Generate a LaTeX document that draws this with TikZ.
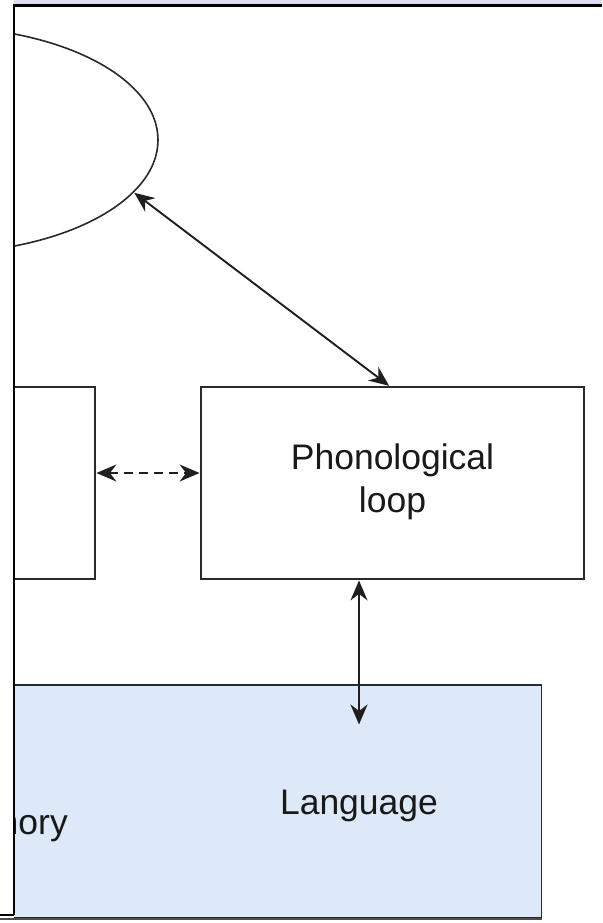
\documentclass[tikz,border=0pt]{standalone}
\usepackage{fontspec}
\setmainfont{Liberation Sans}
\usetikzlibrary{arrows.meta,shapes.geometric,calc}
\definecolor{lav}{HTML}{DCDDF4}
\definecolor{lblue}{HTML}{DDE8F8}
\definecolor{edge}{HTML}{2A2A2A}
\tikzset{
  boxshape/.style={draw=edge,line width=1.8pt,rectangle,inner sep=0pt},
  lbl/.style={font=\fontsize{35.5}{43}\selectfont,text=black!90,inner sep=0pt},
  arr/.style={draw=black!88,line width=1.9pt,{Stealth[length=20pt,width=17pt,inset=6.5pt]}-{Stealth[length=20pt,width=17pt,inset=6.5pt]},shorten <=0.5pt,shorten >=0.5pt},
  frame/.style={draw=black,line width=2.4pt}
}
\begin{document}
\begin{tikzpicture}[x=1pt,y=-1pt]
\useasboundingbox (0,0) rectangle (602,923);
\fill[white] (0,0) rectangle (602,923);
% top strip
\fill[lav] (14,0) rectangle (602,4.5);
\begin{scope}
\clip (14,0) rectangle (602,923);
\node[draw=edge,line width=1.6pt,ellipse,inner sep=0pt,minimum width=440pt,minimum height=226pt] (ell) at (-62,140) {};
\node[boxshape,minimum width=295pt,minimum height=192pt] (lbox) at (-52.5,483) {};
\node[boxshape,fill=lblue,minimum width=841.5pt,minimum height=233pt] (lang) at (120.75,801.5) {};
\node[lbl,anchor=base east] (mem) at (68,834) {Memory};
\end{scope}
\node[boxshape,minimum width=383pt,minimum height=192pt] (phon) at (392.5,483) {};
\node[lbl,anchor=base] (phonA) at (392.5,469) {Phonological};
\node[lbl,anchor=base] (phonB) at (392.5,512) {loop};
\node[lbl,anchor=base] (langtxt) at (359,814) {Language};
\coordinate (vend) at (359,725);
% connectors
\draw[arr] (ell.-15.5) -- ($(phon.north)+(-3,0)$);
\draw[arr,dash pattern=on 9pt off 6pt] ($(lbox.east)+(0,-10)$) -- ($(phon.west)+(0,-10)$);
\draw[arr] (vend |- phon.south) -- (vend);
% frame
\draw[frame] (13,5.5) -- (602,5.5);
\draw[frame] (14,4.5) -- (14,915);
\draw[draw=black,line width=2pt] (0,915) -- (14,915);
\draw[draw=black!70,line width=2pt] (0,919) -- (542,919);
\end{tikzpicture}
\end{document}
